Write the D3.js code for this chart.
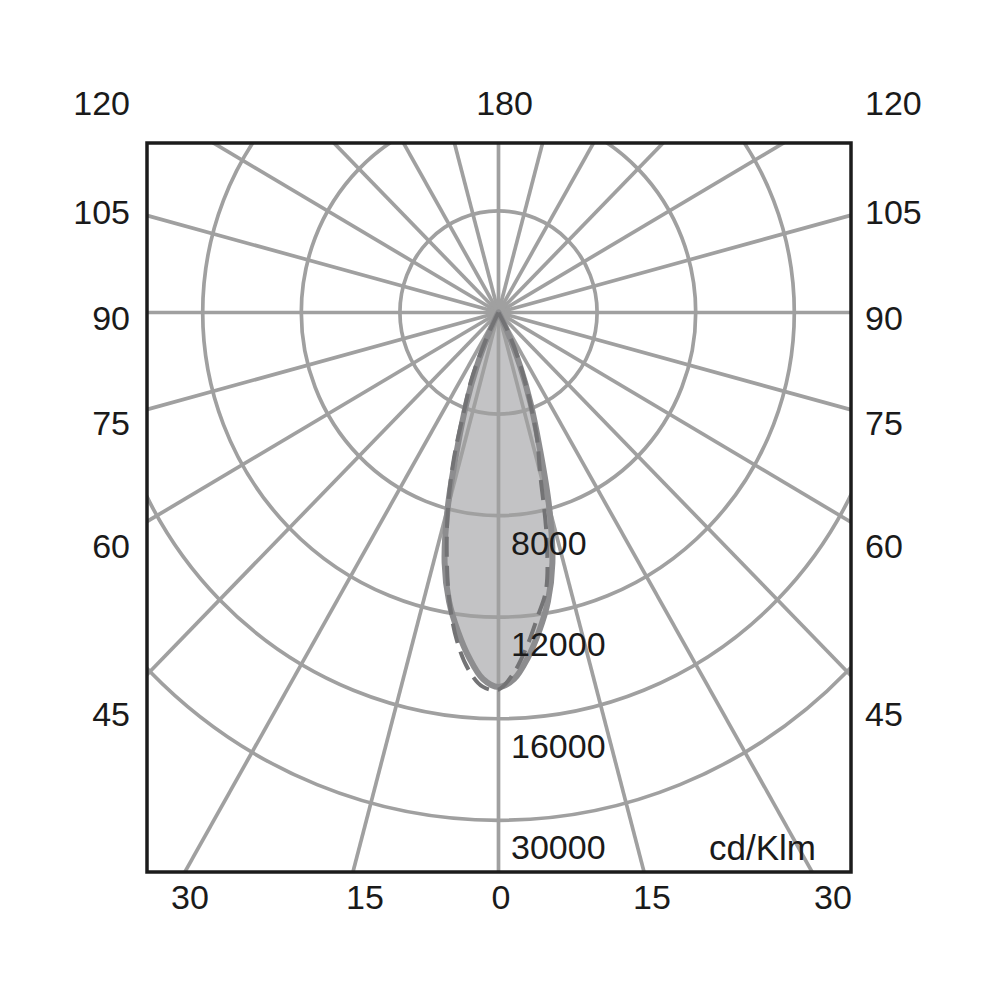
<!DOCTYPE html>
<html>
<head>
<meta charset="utf-8">
<script src="https://cdn.jsdelivr.net/npm/d3@7"></script>
<style>
  html, body { margin: 0; padding: 0; background: #fff; }
  svg { display: block; }
  text { font-family: "Liberation Sans", Arial, sans-serif; fill: #1a1a1a; }
</style>
</head>
<body>
<svg id="chart" width="1000" height="1000"></svg>
<script>
// ---------------- DATA ----------------
// Polar grid (gamma angles, degrees from nadir) and ring intensities (cd/klm)
const spokeAngles = d3.range(0, 360, 15);
const ringValues = [4000, 8000, 12000, 16000, 20000];
const ringLabels = ["", "8000", "12000", "16000", "30000"];
const unitLabel = "cd/Klm";
const sideTickLabels = ["120", "105", "90", "75", "60", "45"];
const topTickLabel = "180";
const bottomTickLabels = ["30", "15", "0", "15", "30"];

// Solid curve (C0-C180 plane, symmetric): angle (deg) -> intensity (cd/klm)
const solidAngles = [0, 2.5, 5, 7.5, 10, 12.5, 15, 17.5, 20, 22.5, 25, 27.5, 30];
const solidValues = [14750, 14450, 13650, 12650, 11550, 10100, 7950, 5500, 3800, 2300, 1000, 300, 0];

// Dashed curve (C90-C270 plane): signed angle (deg, negative = left) -> intensity
const dashedAngles = [-30, -27.5, -25, -22.5, -20, -17.5, -15, -12.5, -10, -7.5, -5, -2.5, 0,
                      2.5, 5, 7.5, 10, 12.5, 15, 17.5, 20, 22.5, 25, 27.5, 30];
const dashedValues = [0, 300, 1400, 2900, 4000, 6000, 7900, 9700, 11500, 13000, 14100, 14750, 14850,
                      14200, 13200, 12100, 11100, 9000, 6500, 5200, 3700, 2500, 1500, 700, 0];

// ---------------- LAYOUT ----------------
const svg = d3.select("#chart");
const cx = 498.5, cy = 312.5;
const yStretch = 1.03;
const frame = { x: 147, y: 143, w: 704, h: 729 };
const r = d3.scaleLinear().domain([0, 20000]).range([0, 493]);
const gridColor = "#a0a0a0";

function pt(angleDeg, value) {
  const a = angleDeg * Math.PI / 180;
  const rr = r(value);
  return [cx + rr * Math.sin(a), cy + rr * Math.cos(a) * yStretch];
}

svg.append("defs").append("clipPath").attr("id", "frameClip")
  .append("rect").attr("x", frame.x).attr("y", frame.y).attr("width", frame.w).attr("height", frame.h);

const plot = svg.append("g").attr("clip-path", "url(#frameClip)");

// Solid curve fill (drawn below the grid)
const solidPts = [];
for (let i = solidAngles.length - 1; i >= 0; i--) solidPts.push(pt(-solidAngles[i], solidValues[i]));
for (let i = 1; i < solidAngles.length; i++) solidPts.push(pt(solidAngles[i], solidValues[i]));
const lineGen = d3.line().curve(d3.curveCatmullRom.alpha(0.5));

plot.append("path")
  .attr("d", lineGen(solidPts) + "Z")
  .attr("fill", "#c3c3c5")
  .attr("stroke", "none");

// Grid: rings
plot.append("g").selectAll("ellipse").data(ringValues).join("ellipse")
  .attr("cx", cx).attr("cy", cy)
  .attr("rx", d => r(d)).attr("ry", d => r(d) * yStretch)
  .attr("fill", "none").attr("stroke", gridColor).attr("stroke-width", 3.7);

// Grid: spokes
plot.append("g").selectAll("line").data(spokeAngles).join("line")
  .attr("x1", cx).attr("y1", cy)
  .attr("x2", d => cx + 1200 * Math.sin(d * Math.PI / 180))
  .attr("y2", d => cy + 1200 * Math.cos(d * Math.PI / 180) * yStretch)
  .attr("stroke", gridColor).attr("stroke-width", 3.7);

// Solid outline
plot.append("path")
  .attr("d", lineGen(solidPts) + "Z")
  .attr("fill", "none")
  .attr("stroke", "#8d8d8f")
  .attr("stroke-width", 6)
  .attr("stroke-linejoin", "round");

// Dashed curve
const dashedPts = dashedAngles.map((a, i) => pt(a, dashedValues[i]));
plot.append("path")
  .attr("d", lineGen(dashedPts))
  .attr("fill", "none")
  .attr("stroke", "#737375")
  .attr("stroke-width", 4)
  .attr("stroke-dasharray", "20,9");

// Ring labels
const fs = 34;
svg.append("g").selectAll("text").data(ringValues.map((v, i) => ({ v, t: ringLabels[i] })).filter(d => d.t))
  .join("text")
  .attr("x", 511)
  .attr("y", d => cy + r(d.v) * yStretch + 39)
  .attr("font-size", fs)
  .text(d => d.t);

// Unit label
svg.append("text").attr("x", 709).attr("y", 860).attr("font-size", 35).text(unitLabel);

// Frame
svg.append("rect")
  .attr("x", frame.x).attr("y", frame.y).attr("width", frame.w).attr("height", frame.h)
  .attr("fill", "none").attr("stroke", "#1c1c1c").attr("stroke-width", 3.5);

// Side tick labels (left right-aligned, right left-aligned)
const sideY = [103, 212, 318, 423, 546, 714];
const half = 12.2; // half cap height for vertical centering
svg.append("g").selectAll("text").data(sideTickLabels).join("text")
  .attr("x", 130).attr("y", (d, i) => sideY[i] + half)
  .attr("text-anchor", "end").attr("font-size", fs).text(d => d);
svg.append("g").selectAll("text").data(sideTickLabels).join("text")
  .attr("x", 865).attr("y", (d, i) => sideY[i] + half)
  .attr("text-anchor", "start").attr("font-size", fs).text(d => d);

// Top label
svg.append("text").attr("x", 504.5).attr("y", 103 + half)
  .attr("text-anchor", "middle").attr("font-size", fs).text(topTickLabel);

// Bottom labels
const bottomX = [190, 365, 501, 652, 833];
svg.append("g").selectAll("text").data(bottomTickLabels).join("text")
  .attr("x", (d, i) => bottomX[i]).attr("y", 897 + half)
  .attr("text-anchor", "middle").attr("font-size", fs).text(d => d);
</script>
</body>
</html>
